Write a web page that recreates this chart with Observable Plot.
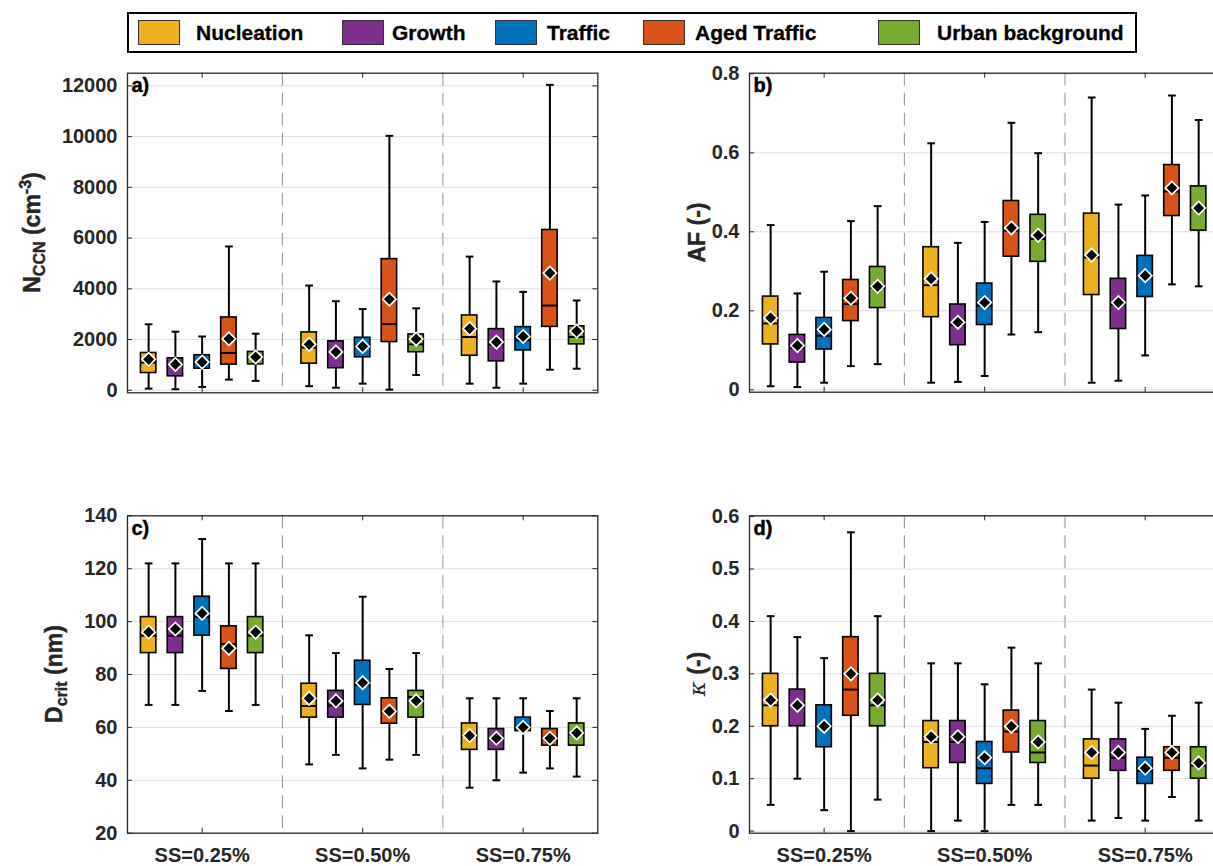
<!DOCTYPE html>
<html><head><meta charset="utf-8">
<script src="https://cdn.jsdelivr.net/npm/d3@7"></script>
<script src="https://cdn.jsdelivr.net/npm/@observablehq/plot@0.6"></script>
<style>
html,body{margin:0;padding:0;background:#fff;overflow:hidden;}
#root{position:relative;width:1213px;height:866px;overflow:hidden;font-family:"Liberation Sans",Arial,sans-serif;}
.panel{position:absolute;}
#legend{position:absolute;left:127px;top:12px;width:1006px;height:37px;border:2px solid #000;}
.sw{position:absolute;top:6px;width:40px;height:23px;border:1px solid #333;}
.lt{position:absolute;top:0;line-height:37px;font-weight:bold;font-size:21px;color:#000;white-space:nowrap;-webkit-text-stroke:0.3px #000;}
</style></head><body><div id="root"><div id="legend"></div></div>
<script>
const categories = ["Nucleation","Growth","Traffic","Aged Traffic","Urban background"];
const colors = ["#EDB120","#7E2F8E","#0072BD","#D95319","#77AC30"];
const ssLabels = ["SS=0.25%","SS=0.50%","SS=0.75%"];

// order: SS=0.25% (5 categories), SS=0.50% (5), SS=0.75% (5)
const nccnLow  = [65,40,130,420,370, 160,100,260,25,600, 260,100,260,810,850];
const nccnQ1   = [680,550,850,1010,1020, 1050,870,1300,1900,1500, 1360,1140,1570,2500,1810];
const nccnMed  = [1090,1000,1100,1470,1310, 1680,1500,1770,2610,1810, 2100,1810,1970,3340,2100];
const nccnQ3   = [1470,1260,1380,2870,1510, 2280,1930,2070,5170,2200, 2950,2410,2490,6320,2520];
const nccnHigh = [2600,2310,2120,5670,2230, 4130,3510,3200,10030,3230, 5270,4290,3880,12040,3540];
const nccnMean = [1220,1020,1110,2030,1310, 1810,1510,1730,3590,2020, 2430,1900,2120,4620,2330];

const afLow  = [0.009,0.007,0.018,0.060,0.065, 0.018,0.020,0.035,0.140,0.146, 0.018,0.023,0.087,0.267,0.262];
const afQ1   = [0.115,0.069,0.102,0.174,0.207, 0.184,0.113,0.164,0.337,0.324, 0.240,0.154,0.235,0.440,0.403];
const afMed  = [0.168,0.106,0.137,0.217,0.259, 0.265,0.164,0.213,0.403,0.382, 0.335,0.216,0.287,0.502,0.457];
const afQ3   = [0.236,0.139,0.182,0.278,0.311, 0.361,0.216,0.269,0.478,0.443, 0.446,0.281,0.339,0.569,0.515];
const afHigh = [0.417,0.244,0.299,0.427,0.465, 0.624,0.372,0.425,0.676,0.599, 0.740,0.469,0.492,0.745,0.683];
const afMean = [0.182,0.112,0.153,0.232,0.262, 0.281,0.171,0.221,0.410,0.391, 0.341,0.221,0.289,0.511,0.460];

const dLow  = [68.5,68.5,73.8,66.2,68.5, 46.0,49.6,44.5,47.8,49.6, 37.2,40.0,42.9,44.5,41.4];
const dQ1   = [88.1,88.1,94.7,82.1,88.1, 63.7,63.7,68.5,61.4,63.7, 51.5,51.5,58.6,53.1,53.1];
const dMed  = [94.7,94.7,101.8,91.5,94.7, 68.1,68.3,76.0,66.1,71.5, 56.9,55.9,60.0,55.9,57.4];
const dQ3   = [101.7,101.7,109.4,98.2,101.7, 76.5,73.8,85.2,71.0,73.8, 61.5,59.4,63.7,59.4,61.5];
const dHigh = [122,122,131.2,122,122, 94.8,88.1,109.4,82.1,88.1, 71,71,71,66.2,71];
const dMean = [96,97.2,103.1,89.9,96, 71,70,76.9,66.1,70, 56.9,55.9,60,55.9,57.9];

const kLow  = [0.05,0.10,0.04,0,0.06, 0,0.02,0,0.05,0.05, 0.02,0.025,0.02,0.065,0.02];
const kQ1   = [0.20,0.20,0.16,0.22,0.20, 0.12,0.13,0.09,0.15,0.13, 0.10,0.115,0.09,0.115,0.10];
const kMed  = [0.24,0.24,0.20,0.27,0.24, 0.17,0.17,0.12,0.19,0.15, 0.125,0.14,0.115,0.14,0.125];
const kQ3   = [0.30,0.27,0.24,0.37,0.30, 0.21,0.21,0.17,0.23,0.21, 0.175,0.175,0.14,0.16,0.16];
const kHigh = [0.41,0.37,0.33,0.57,0.41, 0.32,0.32,0.28,0.35,0.32, 0.27,0.245,0.195,0.22,0.245];
const kMean = [0.25,0.24,0.20,0.30,0.25, 0.18,0.18,0.14,0.20,0.17, 0.15,0.15,0.12,0.15,0.13];

const nccnTicks = [0,2000,4000,6000,8000,10000,12000];
const afTicks = [0,0.2,0.4,0.6,0.8];
const dTicks = [20,40,60,80,100,120,140];
const kTicks = [0,0.1,0.2,0.3,0.4,0.5,0.6];

const root = document.getElementById("root");

// legend
const legend = document.getElementById("legend");
const swLeft = [9,213,366,514,749];
const txLeft = [67,263,418,566,808];
categories.forEach((c,i)=>{
  const s = document.createElement("div"); s.className="sw"; s.style.left=swLeft[i]+"px"; s.style.background=colors[i]; legend.appendChild(s);
  const t = document.createElement("div"); t.className="lt"; t.style.left=txLeft[i]+"px"; t.textContent=c; legend.appendChild(t);
});

const xDomain = [0.535, 3.465];

function makePanel(cfg){
  const rows = cfg.low.map((v,i)=>({
    pos: Math.floor(i/5)+1 + ((i%5)-2)/6, cat: categories[i%5],
    low: v, q1: cfg.q1[i], med: cfg.med[i], q3: cfg.q3[i], high: cfg.high[i], mean: cfg.mean[i]
  }));
  const fw = cfg.fw, fh = cfg.fh, hb = 0.048, hc = 0.024;
  const ink = "#262626";
  const thick = {stroke: ink, strokeWidth: 0.45};
  const marks = [
    Plot.gridY(cfg.ticks, {stroke:"#dedede", strokeOpacity:1, strokeWidth:1}),
    Plot.ruleX([1.5], {stroke:"#9a9a9a", strokeDasharray:"13,7", strokeWidth:1.1}),
    Plot.ruleX([2.5], {stroke: cfg.right ? "#c4c4c4" : "#9a9a9a", strokeDasharray:"13,7", strokeWidth: cfg.right ? 2 : 1.1}),
    Plot.ruleX(rows, {x:"pos", y1:"low", y2:"q1", stroke:"#000", strokeWidth:2}),
    Plot.ruleX(rows, {x:"pos", y1:"q3", y2:"high", stroke:"#000", strokeWidth:2}),
    Plot.link(rows, {x1:d=>d.pos-hc, x2:d=>d.pos+hc, y1:"high", y2:"high", stroke:"#000", strokeWidth:2}),
    Plot.link(rows, {x1:d=>d.pos-hc, x2:d=>d.pos+hc, y1:"low", y2:"low", stroke:"#000", strokeWidth:2}),
    Plot.rect(rows, {x1:d=>d.pos-hb, x2:d=>d.pos+hb, y1:"q1", y2:"q3", fill:"cat", stroke:"#000", strokeWidth:1.6}),
    Plot.link(rows, {x1:d=>d.pos-hb, x2:d=>d.pos+hb, y1:"med", y2:"med", stroke:"#000", strokeWidth:2}),
    Plot.dot(rows, {x:"pos", y:"mean", symbol:"diamond2", r:6, fill:"#000", stroke:"#fff", strokeWidth:1.7}),
    Plot.ruleX([1,2,3], {insetBottom: fh-5, stroke:ink, strokeWidth:1}),
    Plot.ruleX([1,2,3], {insetTop: fh-5, stroke:ink, strokeWidth:1}),
    Plot.ruleY(cfg.ticks, {insetRight: fw-5, stroke:ink, strokeWidth:1}),
    Plot.ruleY(cfg.ticks, {insetLeft: fw-5, stroke:ink, strokeWidth:1}),
    Plot.frame({stroke:ink, strokeWidth:1.3}),
    Plot.axisY(cfg.ticks, {tickSize:0, tickPadding:10, label:null, tickFormat:d=>String(d), fill:ink, ...thick}),
    Plot.text([cfg.label], {frameAnchor:"top-left", dx:4, dy:5, textAnchor:"start", lineAnchor:"top", fontSize:20, fontWeight:"bold", fill:"#000", stroke:"#000", strokeWidth:0.45})
  ];
  if (cfg.showX) marks.push(Plot.axisX([1,2,3], {tickSize:0, tickPadding:15, label:null, tickFormat:d=>ssLabels[d-1], fill:ink, ...thick}));
  const svg = Plot.plot({
    width: cfg.w, height: cfg.h,
    marginLeft: cfg.ml, marginTop: cfg.mt,
    marginRight: cfg.w - cfg.ml - fw, marginBottom: cfg.h - cfg.mt - fh,
    x: {domain: xDomain, axis: cfg.showX ? undefined : null},
    y: {domain: cfg.domain},
    color: {domain: categories, range: colors},
    style: {fontFamily:'"Liberation Sans", Arial, sans-serif', fontSize:"20px", fontWeight:"bold", color:ink, background:"transparent", overflow:"visible"},
    marks
  });
  svg.classList.add("panel");
  svg.style.left = cfg.left + "px";
  svg.style.top = cfg.top + "px";
  svg.style.position = "absolute";
  const t = d3.select(svg).append("text")
    .attr("transform", `translate(${cfg.tx},${cfg.ty}) rotate(-90)`)
    .attr("text-anchor","middle").attr("fill", ink)
    .attr("stroke", ink).attr("stroke-width", 0.45)
    .style("font-size","23px").style("font-weight","bold");
  cfg.title(t);
  root.appendChild(svg);
}

makePanel({label:"a)", low:nccnLow, q1:nccnQ1, med:nccnMed, q3:nccnQ3, high:nccnHigh, mean:nccnMean,
  ticks:nccnTicks, domain:[-100,12500], left:0, top:60, w:606, h:360, ml:127, mt:12.7, fw:470.3, fh:319.6,
  tx:40, ty:172.5, showX:false, right:false,
  title:t=>{ t.append("tspan").text("N"); t.append("tspan").attr("dy",5).style("font-size","16px").text("CCN");
    t.append("tspan").attr("dy",-5).text(" (cm"); t.append("tspan").attr("dy",-9).style("font-size","16px").text("-3");
    t.append("tspan").attr("dy",9).text(")"); }});

makePanel({label:"b)", low:afLow, q1:afQ1, med:afMed, q3:afQ3, high:afHigh, mean:afMean,
  ticks:afTicks, domain:[-0.006,0.8015], left:606, top:60, w:624, h:360, ml:143, mt:12.7, fw:470.3, fh:319.0,
  tx:99, ty:172.5, showX:false, right:true,
  title:t=>{ t.text("AF (-)"); }});

makePanel({label:"c)", low:dLow, q1:dQ1, med:dMed, q3:dQ3, high:dHigh, mean:dMean,
  ticks:dTicks, domain:[20,140], left:0, top:500, w:606, h:366, ml:127, mt:15.3, fw:470.3, fh:317.4,
  tx:62, ty:174, showX:true, right:false,
  title:t=>{ t.append("tspan").text("D"); t.append("tspan").attr("dy",5).style("font-size","16px").text("crit");
    t.append("tspan").attr("dy",-5).text(" (nm)"); }});

makePanel({label:"d)", low:kLow, q1:kQ1, med:kMed, q3:kQ3, high:kHigh, mean:kMean,
  ticks:kTicks, domain:[-0.004,0.6015], left:606, top:500, w:624, h:366, ml:143, mt:15.3, fw:470.3, fh:317.4,
  tx:99, ty:174, showX:true, right:true,
  title:t=>{ t.append("tspan").style("font-family","'DejaVu Serif', serif").style("font-style","italic").style("font-weight","normal").attr("stroke-width",0).text("κ");
    t.append("tspan").text(" (-)"); }});
</script></body></html>
